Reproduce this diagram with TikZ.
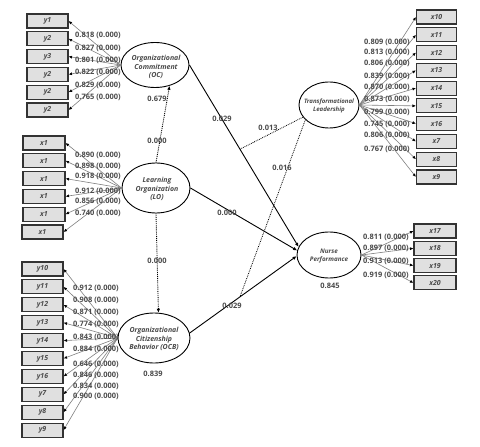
\documentclass[tikz,border=0pt]{standalone}
\usepackage{fontspec}
\setmainfont{Open Sans}
\usetikzlibrary{shapes.geometric,arrows.meta,calc}
\definecolor{txt}{HTML}{4A4A4A}
\definecolor{boxfill}{HTML}{E0E0E0}
\begin{document}
\begin{tikzpicture}[x=1bp,y=-1bp,
 ind/.style={draw=black!80, line width=1.1bp, fill=boxfill, minimum width=41bp, minimum height=14bp, inner sep=0pt, font=\fontsize{7}{7}\selectfont\bfseries\itshape, text=txt},
 lat/.style={ellipse, draw=black, line width=0.9bp, fill=white, inner sep=0pt},
 lattxt/.style={inner sep=0pt, align=center, text=txt, font=\fontsize{7}{8.6}\selectfont\bfseries\itshape},
 lbl/.style={anchor=west, inner sep=0pt, text=txt, font=\fontsize{7.5}{7.5}\selectfont\bfseries},
 plbl/.style={inner sep=0pt, text=txt, font=\fontsize{7.5}{7.5}\selectfont\bfseries},
 load/.style={draw=black!50, line width=0.6bp, -{Latex[length=3.5bp,width=3bp,color=black]}},
 spath/.style={draw=black, line width=0.9bp, -{Latex[length=4bp,width=3.5bp]}},
 dpath/.style={draw=black, line width=0.9bp, densely dotted, -{Latex[length=4bp,width=3.5bp]}},
 modline/.style={draw=black, line width=0.8bp, densely dotted}
]
\fill[white] (0,0) rectangle (480,447);
\useasboundingbox (0,0) rectangle (480,447);

% latent variables
\node[lat, minimum width=68bp, minimum height=45bp] (OC) at (155,65) {};
\node[lattxt] (OCt) at (156,67) {Organizational\\Commitment\\(OC)};
\node[lat, minimum width=68bp, minimum height=50bp] (LO) at (156,188) {};
\node[lattxt] (LOt) at (157,189) {Learning\\Organization\\(LO)};
\node[lat, minimum width=72bp, minimum height=50bp] (OCB) at (154,338) {};
\node[lattxt] (OCBt) at (154,339) {Organizational\\Citizenship\\Behavior (OCB)};
\node[lat, minimum width=60bp, minimum height=46bp] (TL) at (329,105) {};
\node[lattxt, font=\fontsize{6.1}{8}\selectfont\bfseries\itshape] (TLt) at (329,106) {Transformational\\Leadership};
\node[lat, minimum width=64bp, minimum height=46bp] (NP) at (329,255) {};
\node[lattxt, font=\fontsize{6.3}{8}\selectfont\bfseries\itshape] (NPt) at (329,256) {Nurse\\Performance};

% OC indicators
\foreach \n/\t [count=\i from 0] in {a/y1,b/y2,c/y3,d/y2,e/y2,f/y2}{
  \node[ind] (oc\n) at (47.5,21+17.8*\i) {\t};
  \draw[load] (OC.west) -- (oc\n.east);
}
\foreach \v/\yy [count=\i] in {0.818/35.5,0.827/48,0.801/60,0.822/72.5,0.829/85,0.765/97}{
  \node[lbl] (locl\i) at (75,\yy) {\v\ (0.000)};
}

% LO indicators
\foreach \n [count=\i from 0] in {a,b,c,d,e}{
  \node[ind, minimum width=42bp] (lo\n) at (44,143+17.8*\i) {x1};
  \draw[load] (LO.west) -- (lo\n.east);
}
\node[ind, minimum width=41bp] (lof) at (42.5,232) {x1};
\draw[load] (LO.west) -- (lof.east);
\foreach \v/\yy [count=\i] in {0.890/155,0.898/166,0.918/176.5,0.912/191,0.856/201,0.740/213}{
  \node[lbl] (llol\i) at (75,\yy) {\v\ (0.000)};
}

% OCB indicators
\foreach \n/\t [count=\i from 0] in {a/y10,b/y11,c/y12,d/y13,e/y14,f/y15,g/y16,h/y7,k/y8,m/y9}{
  \node[ind] (ocb\n) at (42.5,269+17.9*\i) {\t};
  \draw[load] (OCB.west) -- (ocb\n.east);
}
\foreach \v/\yy [count=\i] in {0.912/288,0.908/300,0.871/312,0.774/324,0.843/337,0.884/349,0.646/364,0.846/375,0.834/386,0.900/396.5}{
  \node[lbl] (locbl\i) at (73,\yy) {\v\ (0.000)};
}

% TL indicators
\foreach \n/\t [count=\i from 0] in {a/x10,b/x11,c/x12,d/x13,e/x14,f/x15,g/x16,h/x7,k/x8,m/x9}{
  \node[ind, minimum width=40bp] (tl\n) at (436.5,17+17.78*\i) {\t};
  \draw[load] (TL.east) -- (tl\n.west);
}
\foreach \v/\yy [count=\i] in {0.809/42,0.813/52.5,0.806/63,0.839/76,0.870/87,0.873/99,0.799/112,0.745/124,0.806/135,0.767/149}{
  \node[lbl] (ltll\i) at (364,\yy) {\v\ (0.000)};
}

% NP indicators
\foreach \n/\t [count=\i from 0] in {a/x17,b/x18,c/x19,d/x20}{
  \node[ind, minimum width=42bp] (np\n) at (435,231+17.3*\i) {\t};
  \draw[load] (NP.east) -- (np\n.west);
}
\foreach \v/\yy [count=\i] in {0.811/237,0.897/248,0.913/261,0.919/275}{
  \node[lbl] (lnpl\i) at (363,\yy) {\v\ (0.000)};
}

% structural paths
\draw[dpath] (LO.north) -- (OC.305);
\draw[dpath] (LO.south) -- (OCB.80);
\draw[spath] (OC.east) -- (NP.165);
\draw[spath] (LO.east) -- (NP.172);
\draw[spath] (OCB.8) -- (NP.182);
\coordinate (m1) at ($(OC.east)!0.463!(NP.165)$);
\coordinate (m2) at ($(OCB.8)!0.47!(NP.182)$);
\draw[modline] (TL.205) -- (m1);
\draw[modline] (TL.212) -- (m2);

% path labels
\node[plbl] (p1) at (157,99) {0.679};
\node[plbl] (p2) at (157,141) {0.000};
\node[plbl] (p3) at (222,119) {0.029};
\node[plbl] (p4) at (268,128) {0.013};
\node[plbl] (p5) at (282,168) {0.016};
\node[plbl] (p6) at (227,213) {0.000};
\node[plbl] (p7) at (157,261) {0.000};
\node[plbl] (p8) at (232,306) {0.029};
\node[plbl] (r1) at (153,374) {0.839};
\node[plbl] (r2) at (330,286) {0.845};
\end{tikzpicture}
\end{document}
